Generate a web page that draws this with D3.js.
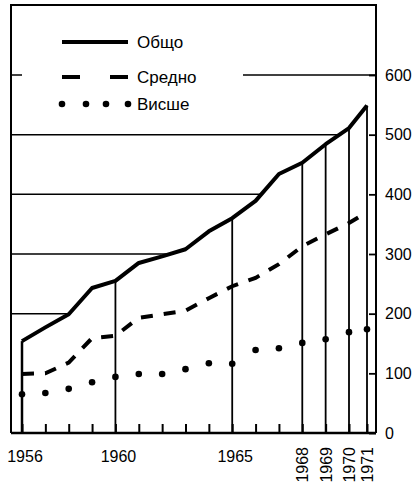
<!DOCTYPE html>
<html>
<head>
<meta charset="utf-8">
<script src="https://cdn.jsdelivr.net/npm/d3@7"></script>
<style>
  body { margin: 0; background: #fff; }
  text { font-family: "Liberation Sans", Arial, sans-serif; fill: #000; }
</style>
</head>
<body>
<div id="wrapper"></div>
<script>
const years = [1956, 1957, 1958, 1959, 1960, 1961, 1962, 1963, 1964, 1965, 1966, 1967, 1968, 1969, 1970, 1971];
const total = [154, 177, 199, 243, 255, 285, 296, 308, 338, 360, 389, 434, 453, 484, 511, 549];   // Общо
const secondary = [99, 100, 118, 159, 163, 193, 199, 205, 226, 246, 260, 283, 313, 333, 352, 370]; // Средно
const higher = [65, 67, 74, 85, 94, 99, 99, 107, 117, 116, 139, 142, 151, 157, 169, 174];         // Висше
const yTicks = [0, 100, 200, 300, 400, 500, 600];
const dropYears = [1956, 1960, 1965, 1968, 1969, 1970, 1971];
const flatLabels = [1956, 1960, 1965];
const upLabels = [1968, 1969, 1970, 1971];
const legendNames = ["Общо", "Средно", "Висше"];

function drawChart() {
  let dimensions = {
    width: 419,
    height: 490,
    margin: { top: 5, right: 43, bottom: 57, left: 11 },
  };
  dimensions.boundedWidth = dimensions.width - dimensions.margin.left - dimensions.margin.right;
  dimensions.boundedHeight = dimensions.height - dimensions.margin.top - dimensions.margin.bottom;

  const wrapper = d3.select("#wrapper")
    .append("svg")
    .attr("width", dimensions.width)
    .attr("height", dimensions.height);

  const bounds = wrapper.append("g")
    .attr("transform", `translate(${dimensions.margin.left},${dimensions.margin.top})`);

  const data = years.map((y, i) => ({ year: y, total: total[i], secondary: secondary[i], higher: higher[i] }));

  // scales (last year is drawn a little narrower, like the original)
  const xScale = d3.scaleLinear()
    .domain([1956, 1970, 1971])
    .range([11, 338, 356]);
  const yScale = d3.scaleLinear()
    .domain([0, 600])
    .range([dimensions.boundedHeight, 70]);

  // clip: grid lines only show above the total line
  const clipPts = [[0, yScale(total[0])]]
    .concat(data.map(d => [xScale(d.year), yScale(d.total)]))
    .concat([[dimensions.boundedWidth, yScale(total[total.length - 1])]]);
  const clipArea = d3.area().x(d => d[0]).y0(0).y1(d => d[1]);
  bounds.append("clipPath").attr("id", "above")
    .append("path").attr("d", clipArea(clipPts));

  bounds.append("g")
    .attr("clip-path", "url(#above)")
    .selectAll("line")
    .data(yTicks.slice(1))
    .join("line")
    .attr("x1", 0)
    .attr("x2", dimensions.boundedWidth)
    .attr("y1", d => yScale(d))
    .attr("y2", d => yScale(d))
    .attr("stroke", "#000")
    .attr("stroke-width", 1.5);

  // white patch behind legend (breaks the 600 line)
  bounds.append("rect")
    .attr("x", 11).attr("y", 15)
    .attr("width", 221).attr("height", 105)
    .attr("fill", "#fff");

  // vertical drop lines
  bounds.append("g")
    .selectAll("line")
    .data(dropYears)
    .join("line")
    .attr("x1", d => xScale(d))
    .attr("x2", d => xScale(d))
    .attr("y1", dimensions.boundedHeight)
    .attr("y2", d => yScale(total[years.indexOf(d)]))
    .attr("stroke", "#000")
    .attr("stroke-width", d => d === 1956 ? 2.5 : 1.8);

  // frame
  bounds.append("path")
    .attr("d", `M0,${dimensions.boundedHeight}V0H${dimensions.boundedWidth}V${dimensions.boundedHeight}`)
    .attr("fill", "none")
    .attr("stroke", "#000")
    .attr("stroke-width", 2);

  // right axis
  const yAxisGenerator = d3.axisRight(yScale)
    .tickValues(yTicks)
    .tickSize(-7)
    .tickPadding(9)
    .tickSizeOuter(0);
  const yAxis = bounds.append("g")
    .attr("transform", `translate(${dimensions.boundedWidth},0)`)
    .call(yAxisGenerator);
  yAxis.select(".domain").remove();
  yAxis.selectAll(".tick line").attr("stroke-width", 1.8);
  yAxis.selectAll("text")
    .style("font-size", "16px")
    .style("font-family", "'Liberation Sans', Arial, sans-serif");

  // bottom axis
  const xAxisGenerator = d3.axisBottom(xScale)
    .tickValues(years)
    .tickSize(-9)
    .tickFormat("")
    .tickSizeOuter(0);
  const xAxis = bounds.append("g")
    .attr("transform", `translate(0,${dimensions.boundedHeight})`)
    .call(xAxisGenerator);
  xAxis.select(".domain").remove();
  xAxis.selectAll(".tick line").attr("stroke-width", 2);
  xAxis.append("line")
    .attr("x1", 0).attr("x2", dimensions.boundedWidth)
    .attr("stroke", "#000").attr("stroke-width", 2.5);

  xAxis.selectAll(".flat")
    .data(flatLabels)
    .join("text")
    .attr("class", "flat")
    .attr("x", d => xScale(d) + 3)
    .attr("y", 29)
    .attr("text-anchor", "middle")
    .style("font-size", "16px")
    .text(d => d);

  xAxis.selectAll(".up")
    .data(upLabels)
    .join("text")
    .attr("class", "up")
    .attr("transform", d => `translate(${xScale(d) + 6},14) rotate(-90)`)
    .attr("text-anchor", "end")
    .style("font-size", "16px")
    .text(d => d);

  // series
  const lineOf = key => d3.line()
    .x(d => xScale(d.year))
    .y(d => yScale(d[key]));

  bounds.append("path")
    .attr("d", lineOf("total")(data))
    .attr("fill", "none")
    .attr("stroke", "#000")
    .attr("stroke-width", 4)
    .attr("stroke-linejoin", "round");

  bounds.append("path")
    .attr("d", lineOf("secondary")(data))
    .attr("fill", "none")
    .attr("stroke", "#000")
    .attr("stroke-width", 4)
    .attr("stroke-dasharray", "12,11");

  bounds.append("g")
    .selectAll("circle")
    .data(data)
    .join("circle")
    .attr("cx", d => xScale(d.year))
    .attr("cy", d => yScale(d.higher))
    .attr("r", 3.3)
    .attr("fill", "#000");

  // legend
  const legend = bounds.append("g");
  legend.append("line")
    .attr("x1", 51).attr("x2", 117).attr("y1", 37).attr("y2", 37)
    .attr("stroke", "#000").attr("stroke-width", 4);
  legend.append("line")
    .attr("x1", 51).attr("x2", 117).attr("y1", 72).attr("y2", 72)
    .attr("stroke", "#000").attr("stroke-width", 4)
    .attr("stroke-dasharray", "18,30");
  legend.selectAll("circle")
    .data([51, 75, 95, 117])
    .join("circle")
    .attr("cx", d => d).attr("cy", 99).attr("r", 3.3)
    .attr("fill", "#000");
  legend.selectAll("text")
    .data(legendNames)
    .join("text")
    .attr("x", 126)
    .attr("y", (d, i) => [37, 72, 99][i])
    .attr("dy", "0.35em")
    .style("font-size", "17px")
    .text(d => d);
}

drawChart();
</script>
</body>
</html>
